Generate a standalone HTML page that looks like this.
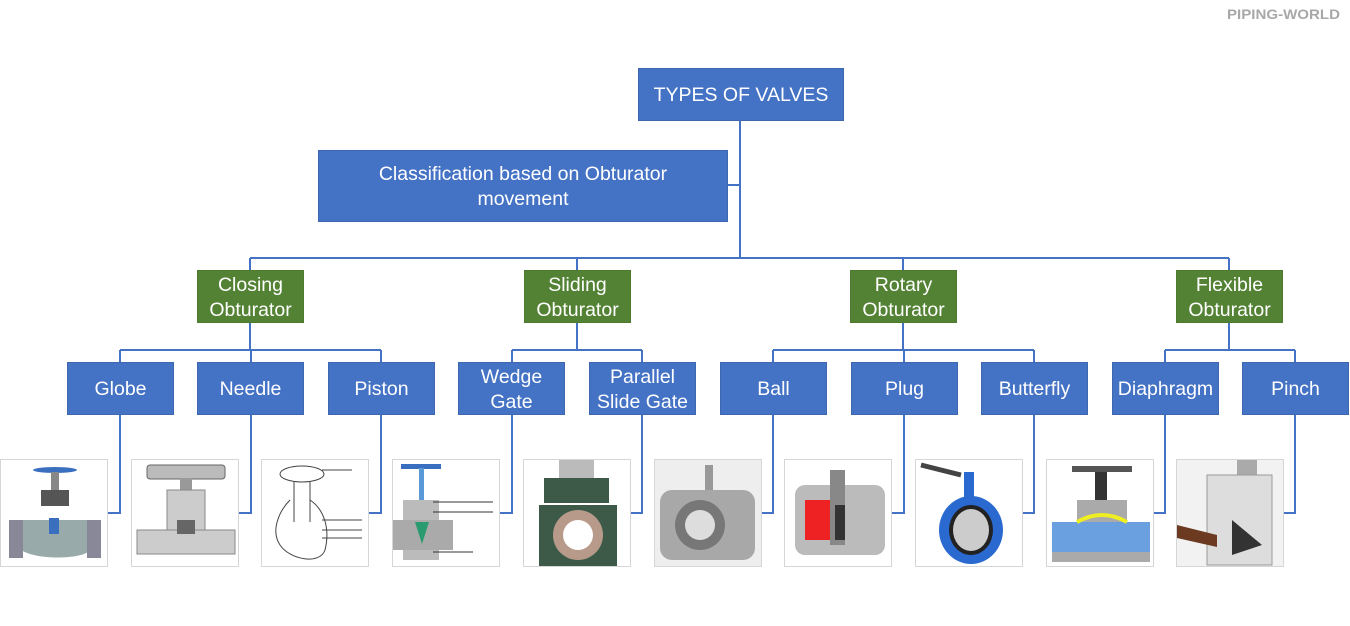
<!DOCTYPE html>
<html><head><meta charset="utf-8"><style>
html,body{margin:0;padding:0;background:#fff;width:1350px;height:626px;overflow:hidden}
.b{position:absolute;background:#4472c4;color:#fff;font-family:"Liberation Sans",sans-serif;font-size:19.5px;display:flex;align-items:center;justify-content:center;text-align:center;line-height:25px;box-sizing:border-box;border:1px solid #3f67b0;padding-top:2px}
.g{background:#548235;border-color:#4e7a30}
.img{position:absolute;top:459px;width:108px;height:108px;border:1px solid #d6d6d6;box-sizing:border-box;background:#fff;overflow:hidden}
svg{position:absolute;left:0;top:0}
</style></head><body>
<svg width="1350" height="626">
<g stroke="#4472c4" stroke-width="2" fill="none">
<path d="M740 120V258M728 185H740M250 258H1229M250 258V270M577 258V270M903 258V270M1229 258V270"/>
<path d="M250 322V350M120 350H381M120 350V362M251 350V362M381 350V362"/>
<path d="M577 322V350M512 350H642M512 350V362M642 350V362"/>
<path d="M903 322V350M773 350H1034M773 350V362M904 350V362M1034 350V362"/>
<path d="M1229 322V350M1165 350H1295M1165 350V362M1295 350V362"/>
<path d="M120 414V513H108M251 414V513H239M381 414V513H369M512 414V513H500M642 414V513H631M773 414V513H762M904 414V513H892M1034 414V513H1023M1165 414V513H1154M1295 414V513H1284"/>
</g>
<text x="1227" y="19" font-family="Liberation Sans,sans-serif" font-weight="bold" font-size="14" fill="#a8a8a8" textLength="113" lengthAdjust="spacingAndGlyphs">PIPING-WORLD</text>
</svg>
<div class="b" style="left:638px;top:68px;width:206px;height:53px">TYPES OF VALVES</div>
<div class="b" style="left:318px;top:150px;width:410px;height:72px">Classification based on Obturator<br>movement</div>
<div class="b g" style="left:197px;top:270px;width:107px;height:53px">Closing<br>Obturator</div>
<div class="b g" style="left:524px;top:270px;width:107px;height:53px">Sliding<br>Obturator</div>
<div class="b g" style="left:850px;top:270px;width:107px;height:53px">Rotary<br>Obturator</div>
<div class="b g" style="left:1176px;top:270px;width:107px;height:53px">Flexible<br>Obturator</div>
<div class="b" style="left:67px;top:362px;width:107px;height:53px">Globe</div>
<div class="b" style="left:197px;top:362px;width:107px;height:53px">Needle</div>
<div class="b" style="left:328px;top:362px;width:107px;height:53px">Piston</div>
<div class="b" style="left:458px;top:362px;width:107px;height:53px">Wedge<br>Gate</div>
<div class="b" style="left:589px;top:362px;width:107px;height:53px">Parallel<br>Slide Gate</div>
<div class="b" style="left:720px;top:362px;width:107px;height:53px">Ball</div>
<div class="b" style="left:851px;top:362px;width:107px;height:53px">Plug</div>
<div class="b" style="left:981px;top:362px;width:107px;height:53px">Butterfly</div>
<div class="b" style="left:1112px;top:362px;width:107px;height:53px">Diaphragm</div>
<div class="b" style="left:1242px;top:362px;width:107px;height:53px">Pinch</div>

<div class="img" style="left:0"><svg width="108" height="108"><ellipse cx="54" cy="10" rx="22" ry="3" fill="#3a6fc0"/><rect x="50" y="12" width="8" height="30" fill="#888"/><rect x="40" y="30" width="28" height="16" fill="#555"/><path d="M20 60h70v30c-10 10-55 10-70 0z" fill="#9aa"/><rect x="8" y="60" width="14" height="38" fill="#889"/><rect x="86" y="60" width="14" height="38" fill="#889"/><rect x="48" y="58" width="10" height="16" fill="#3a6fc0"/></svg></div>
<div class="img" style="left:131px"><svg width="108" height="108"><rect x="15" y="5" width="78" height="14" rx="3" fill="#bbb" stroke="#666"/><rect x="48" y="18" width="12" height="40" fill="#999"/><rect x="35" y="30" width="38" height="45" fill="#ccc" stroke="#888"/><rect x="5" y="70" width="98" height="24" fill="#ccc" stroke="#888"/><rect x="45" y="60" width="18" height="14" fill="#666"/></svg></div>
<div class="img" style="left:261px"><svg width="108" height="108" fill="none" stroke="#444"><ellipse cx="40" cy="14" rx="22" ry="8"/><path d="M32 22v40M48 22v40M28 40c-10 10-20 30-10 45 10 15 40 20 45 5 5-20 0-40-15-50"/><path d="M60 10h30M60 60h40M60 70h40M60 78h40"/></svg></div>
<div class="img" style="left:392px"><svg width="108" height="108"><rect x="8" y="4" width="40" height="5" fill="#3a6fc0"/><rect x="26" y="8" width="5" height="80" fill="#5a9ad8"/><path d="M10 40h36v60H10z" fill="#bbb"/><rect x="0" y="60" width="60" height="30" fill="#aaa"/><path d="M22 62h14l-7 22z" fill="#2a9a70"/><path d="M40 42h60M40 52h60M40 92h40" stroke="#333"/></svg></div>
<div class="img" style="left:523px"><svg width="108" height="108"><rect x="35" y="0" width="35" height="20" fill="#bbb"/><rect x="20" y="18" width="65" height="25" fill="#3d5a48"/><path d="M15 45h78v63H15z" fill="#3d5a48"/><circle cx="54" cy="75" r="25" fill="#b89a8a"/><circle cx="54" cy="75" r="15" fill="#fff"/></svg></div>
<div class="img" style="left:654px;background:#eee"><svg width="108" height="108"><rect x="50" y="5" width="8" height="30" fill="#999"/><rect x="5" y="30" width="95" height="70" rx="12" fill="#a8a8a8"/><circle cx="45" cy="65" r="25" fill="#777"/><circle cx="45" cy="65" r="15" fill="#ddd"/></svg></div>
<div class="img" style="left:784px"><svg width="108" height="108"><rect x="10" y="25" width="90" height="70" rx="10" fill="#bbb"/><path d="M20 40h30v40H20z" fill="#e22"/><rect x="45" y="10" width="15" height="75" fill="#888"/><rect x="50" y="45" width="10" height="35" fill="#333"/></svg></div>
<div class="img" style="left:915px"><svg width="108" height="108"><path d="M5 5l40 10" stroke="#444" stroke-width="5"/><rect x="48" y="12" width="10" height="25" fill="#2a6ad0"/><ellipse cx="55" cy="70" rx="32" ry="34" fill="#2a6ad0"/><ellipse cx="55" cy="70" rx="22" ry="25" fill="#222"/><ellipse cx="55" cy="70" rx="18" ry="21" fill="#ccc"/></svg></div>
<div class="img" style="left:1046px"><svg width="108" height="108"><rect x="25" y="6" width="60" height="6" fill="#555"/><rect x="48" y="12" width="12" height="38" fill="#333"/><rect x="30" y="40" width="50" height="25" fill="#aaa"/><path d="M5 62h98v30H5z" fill="#6aa0e0"/><path d="M30 62q25-14 50 0" stroke="#ee2" stroke-width="4" fill="none"/><rect x="5" y="92" width="98" height="10" fill="#aaa"/></svg></div>
<div class="img" style="left:1176px"><svg width="108" height="108"><rect x="0" y="0" width="108" height="108" fill="#f2f2f2"/><rect x="60" y="0" width="20" height="20" fill="#aaa"/><rect x="30" y="15" width="65" height="90" fill="#ddd" stroke="#999"/><path d="M0 65l40 10v12L0 78z" fill="#6b3a20"/><path d="M55 60l30 25-30 10z" fill="#333"/></svg></div>
</body></html>
